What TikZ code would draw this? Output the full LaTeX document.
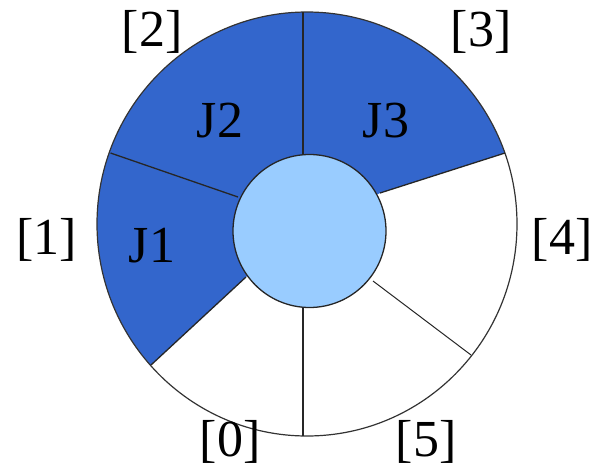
\documentclass[tikz,border=0pt]{standalone}
\usepackage{fontspec}
\setmainfont{Liberation Serif}
\usetikzlibrary{calc}
\definecolor{jobblue}{HTML}{3366CC}
\definecolor{hubblue}{HTML}{99CCFF}
\begin{document}
\begin{tikzpicture}[x=1pt,y=-1pt,
  spoke/.style={draw=black!85,line width=1.3pt},
  rim/.style={draw=black!80,line width=1.2pt},
  lbl/.style={font=\fontsize{52}{60}\selectfont,inner sep=0pt}]
\useasboundingbox (0,0) rectangle (592,469);
% centre and ring
\coordinate (c) at (307,224);
\coordinate (hc) at (309.5,231);
% spoke end points
\coordinate (tI) at (303,155);  \coordinate (tO) at (303,12);
\coordinate (urI) at (380,193); \coordinate (urO) at (505,153);
\coordinate (ulI) at (238,197); \coordinate (ulO) at (110.5,153);
\coordinate (llI) at (246,277); \coordinate (llO) at (151,365);
\coordinate (bI) at (303,307);  \coordinate (bO) at (303,436);
\coordinate (lrI) at (373,281); \coordinate (lrO) at (471,355);
% blue job sectors
\begin{scope}
  \clip (c) ellipse [x radius=210, y radius=212];
  \fill[jobblue] (hc) -- (urI) -- ($(urI)!3!(urO)$) -- (760,-200) -- (-200,-200)
     -- (-200,600) -- ($(llI)!3!(llO)$) -- (llI) -- cycle;
\end{scope}
% rim
\draw[rim] (c) ellipse [x radius=210, y radius=212];
% spokes
\draw[spoke] (tI) -- (tO);
\draw[spoke] (urI) -- (urO);
\draw[spoke] (ulI) -- (ulO);
\draw[spoke] (llI) -- (llO);
\draw[spoke] (bI) -- (bO);
\draw[spoke,line width=1pt] (lrI) -- (lrO);
% hub
\node[circle,draw=black!85,fill=hubblue,line width=1.3pt,minimum size=153pt,inner sep=0pt] (hub) at (hc) {};
% labels
\node[lbl] (j1) at (152,246) {J1};
\node[lbl] (j2) at (220,121) {J2};
\node[lbl] (j3) at (386,121) {J3};
\node[lbl] (i0) at (230,442) {[0]};
\node[lbl] (i1) at (47,240) {[1]};
\node[lbl] (i2) at (152,32) {[2]};
\node[lbl] (i3) at (481,32) {[3]};
\node[lbl] (i4) at (562,240) {[4]};
\node[lbl] (i5) at (426,442) {[5]};
\end{tikzpicture}
\end{document}
